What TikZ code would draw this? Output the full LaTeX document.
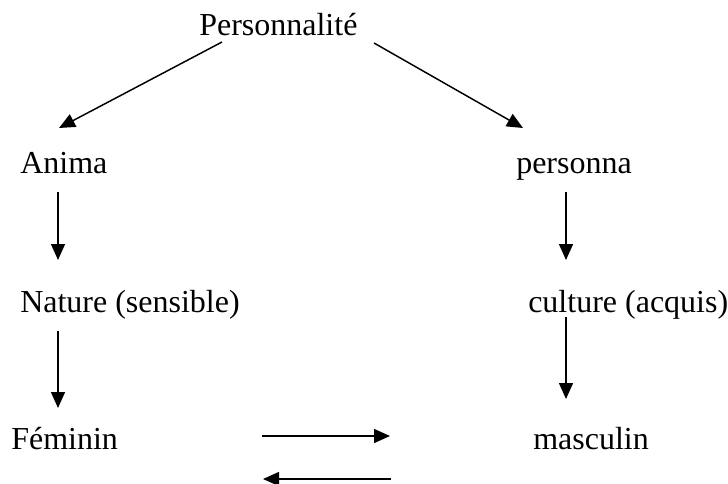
\documentclass[tikz,border=0pt]{standalone}
\usepackage{fontspec}
\setmainfont{Liberation Serif}
\usepackage{tikz}
\usetikzlibrary{arrows.meta}

\tikzset{
    word/.style={inner sep=0pt, anchor=base west, font=\fontsize{24}{28}\selectfont},
    arr/.style={-{Triangle[length=12pt,width=10.5pt]}, line width=1.1pt}
}

\begin{document}
\begin{tikzpicture}[x=0.75pt,y=-0.75pt]

\useasboundingbox (0,0) rectangle (728,483);

\node [word] (perso) at (199,35) {Personnalité};

\node [word] (anima) at (20,173) {Anima};
\node [word] (persona) at (516,173) {personna};

\node [word] (nature) at (20,312) {Nature (sensible)};
\node [word] (culture) at (528,312) {culture (acquis)};

\node [word] (feminin) at (11,449) {Féminin};
\node [word] (masculin) at (533,449) {masculin};

\draw [arr] ([shift={(23,7)}]perso.base west) -- ([shift={(39,-45)}]anima.base west);
\draw [arr] ([shift={(175,8)}]perso.base west) -- ([shift={(7,-45)}]persona.base west);

\draw [arr] ([shift={(38,19)}]anima.base west) -- ([shift={(38,-52)}]nature.base west);
\draw [arr] ([shift={(50,19)}]persona.base west) -- ([shift={(38,-52)}]culture.base west);

\draw [arr] ([shift={(38,19)}]nature.base west) -- ([shift={(47,-41)}]feminin.base west);
\draw [arr] ([shift={(38,5)}]culture.base west) -- ([shift={(33,-50)}]masculin.base west);

\draw [arr] ([shift={(251,-13)}]feminin.base west) -- ([shift={(-143,-13)}]masculin.base west);
\draw [arr] ([shift={(-142,30)}]masculin.base west) -- ([shift={(252,30)}]feminin.base west);

\end{tikzpicture}
\end{document}
